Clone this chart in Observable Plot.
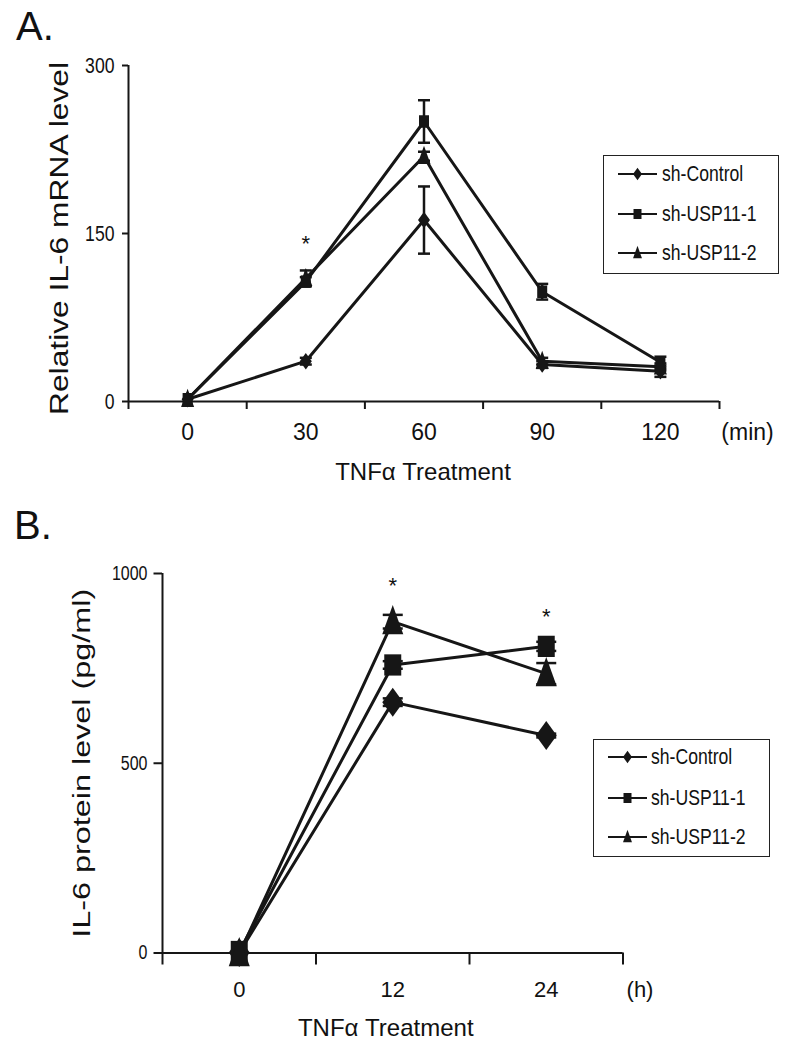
<!DOCTYPE html>
<html><head><meta charset="utf-8">
<script src="https://cdn.jsdelivr.net/npm/d3@7"></script>
<script src="https://cdn.jsdelivr.net/npm/@observablehq/plot@0.6"></script>
<style>
body{margin:0;background:#fff;}
#wrap{position:relative;width:789px;height:1050px;overflow:hidden;background:#fff;font-family:"Liberation Sans",Arial,sans-serif;color:#111;}
.panel{position:absolute;left:0;}
.letter{position:absolute;font-size:40px;line-height:40px;color:#111;}
.legend{position:absolute;border:1.6px solid #222;box-sizing:border-box;background:#fff;}
.lrow{position:absolute;left:0;height:24px;}
.lrow svg{position:absolute;left:12px;top:0;}
.lrow span{position:absolute;top:0;line-height:24px;font-size:22px;white-space:nowrap;display:inline-block;transform:scaleX(0.8);transform-origin:0 50%;}
</style>
</head><body>
<div id="wrap">
  <div id="pA" class="panel" style="top:0px"></div>
  <div id="pB" class="panel" style="top:500px"></div>
  <div class="letter" style="left:16px;top:6px">A.</div>
  <div class="letter" style="left:14px;top:505px">B.</div>
  <div id="legA" class="legend" style="left:603px;top:155px;width:176px;height:119px"></div>
  <div id="legB" class="legend" style="left:593px;top:739px;width:177px;height:118px"></div>
</div>
<script>
// ---------- data ----------
const seriesNames = ["sh-Control", "sh-USP11-1", "sh-USP11-2"];

// Panel A: relative IL-6 mRNA level vs TNFα time (min)
const timesA = [0, 30, 60, 90, 120];
const meanA_control = [2, 36, 162, 33, 27];
const errA_control  = [0, 3, 30, 3, 5];
const meanA_usp1    = [2, 107, 250, 98, 35];
const errA_usp1     = [0, 4, 19, 7, 5];
const meanA_usp2    = [2, 110, 219, 36, 31];
const errA_usp2     = [0, 7, 4, 3, 3];
const yTicksA = [0, 150, 300];
const starTimesA = [30];
const starLevelsA = [146];

// Panel B: IL-6 protein level (pg/ml) vs TNFα time (h)
const timesB = [0, 12, 24];
const meanB_control = [1, 661, 573];
const errB_control  = [0, 10, 5];
const meanB_usp1    = [4, 759, 808];
const errB_usp1     = [0, 10, 12];
const meanB_usp2    = [-2, 873, 736];
const errB_usp2     = [0, 18, 28];
const yTicksB = [0, 500, 1000];
const starTimesB = [12, 24];
const starLevelsB = [982, 900];

// ---------- helpers ----------
const INK = "#161616";
function shape(pts) {
  return {draw(ctx, size) {
    const s = Math.sqrt(size / Math.PI);
    pts.forEach(([x, y], i) => i ? ctx.lineTo(x * s, y * s) : ctx.moveTo(x * s, y * s));
    ctx.closePath();
  }};
}
const diamond = shape([[0, -1.38], [1, 0], [0, 1.38], [-1, 0]]);
const square = shape([[-1, -1.25], [1, -1.25], [1, 1.25], [-1, 1.25]]);
const triangle = shape([[0, -1.6], [1, 1.2], [-1, 1.2]]);
const symbols = [diamond, square, triangle];
const cap = {draw(ctx, size) { const r = Math.sqrt(size / Math.PI); ctx.moveTo(-r, 0); ctx.lineTo(r, 0); }};

function rows(times, means, errs) {
  return seriesNames.flatMap((s, i) => times.map((t, j) => ({series: s, si: i, t, m: means[i][j], e: errs[i][j]})));
}
function boundaries(times) {
  const step = times[1] - times[0];
  return [times[0] - step / 2, ...times.map(t => t + step / 2)];
}

function panel(cfg) {
  const data = rows(cfg.times, cfg.means, cfg.errs);
  const bnd = boundaries(cfg.times);
  const withErr = data.filter(d => d.e > 0);
  const caps = withErr.flatMap(d => [{t: d.t, v: d.m - d.e}, {t: d.t, v: d.m + d.e}]);
  const stars = cfg.starTimes.map((t, i) => ({t, v: cfg.starLevels[i]}));
  const svg = Plot.plot({
    width: 789, height: cfg.height,
    marginLeft: cfg.ml, marginRight: cfg.mr, marginTop: cfg.mt, marginBottom: cfg.mb,
    x: {domain: [bnd[0], bnd[bnd.length - 1]], axis: null},
    y: {domain: cfg.ydomain, axis: null},
    style: {fontFamily: "Liberation Sans, Arial, sans-serif", color: "#111", background: "transparent", overflow: "visible"},
    marks: [
      Plot.ruleX([bnd[0]], {stroke: INK, strokeWidth: 2}),
      Plot.ruleY([cfg.ydomain[0]], {stroke: INK, strokeWidth: 2}),
      Plot.axisY({ticks: cfg.yticks, tickFormat: d3.format("d"), tickSize: cfg.ytickSize, tickPadding: cfg.ytickPad, strokeWidth: 2, stroke: INK,
        fontSize: cfg.yFont, label: null, className: "ytk"}),
      Plot.axisX({ticks: bnd, tickSize: cfg.xtickSize, tickFormat: () => "", strokeWidth: 2, stroke: INK, label: null}),
      Plot.axisX({ticks: cfg.times, tickSize: 0, tickPadding: cfg.xtickPad, fontSize: cfg.xFont, label: null, lineAnchor: "top"}),
      Plot.text([cfg.unit], {frameAnchor: "bottom-right", textAnchor: "middle", dx: cfg.unitDx, dy: cfg.xtickPad, lineAnchor: "top", fontSize: cfg.xFont, fill: "#111"}),
      Plot.text(["TNFα Treatment"], {frameAnchor: "bottom", textAnchor: "middle", dx: cfg.titleDx, dy: cfg.titleDy, lineAnchor: "top", fontSize: 24, fill: "#111"}),
      Plot.text([cfg.ylabel], {frameAnchor: "left", textAnchor: "middle", lineAnchor: "middle", rotate: -90, dx: cfg.ylabDx, dy: cfg.ylabCy, fontSize: cfg.ylabFont, fill: "#111", className: "ylab"}),
      Plot.line(data, {x: "t", y: "m", z: "series", stroke: INK, strokeWidth: 3}),
      Plot.ruleX(withErr, {x: "t", y1: d => d.m - d.e, y2: d => d.m + d.e, stroke: INK, strokeWidth: 2.5}),
      Plot.dot(caps, {x: "t", y: "v", symbol: cap, r: cfg.capR, stroke: INK, strokeWidth: 2.5, fill: "none"}),
      ...symbols.map((sym, i) => Plot.dot(data.filter(d => d.si === i), {x: "t", y: "m", symbol: sym, r: cfg.markR[i], fill: INK, stroke: "none"})),
      Plot.text(stars, {x: "t", y: "v", text: () => "*", fontSize: 22, dy: 6, fill: "#111"})
    ]
  });
  document.getElementById(cfg.id).appendChild(svg);
  svg.querySelectorAll(".ylab text").forEach(t => {
    t.setAttribute("textLength", cfg.ylabLen);
    t.setAttribute("lengthAdjust", "spacingAndGlyphs");
  });
  // condensed tick labels, as in the reference
  svg.querySelectorAll(".ytk text").forEach(t => {
    const w = t.getComputedTextLength();
    if (w > 0) {
      t.setAttribute("textLength", (w * 0.8).toFixed(1));
      t.setAttribute("lengthAdjust", "spacingAndGlyphs");
    }
  });
}

panel({
  id: "pA", height: 500, ml: 128, mr: 70, mt: 65, mb: 99,
  times: timesA, means: [meanA_control, meanA_usp1, meanA_usp2], errs: [errA_control, errA_usp1, errA_usp2],
  ydomain: [0, 300], yticks: yTicksA, ytickSize: 6, ytickPad: 8, yFont: 22,
  xtickSize: 8, xtickPad: 22, xFont: 23, unit: "(min)", unitDx: 28,
  titleDx: -1, titleDy: 61, ylabel: "Relative IL-6 mRNA level", ylabDx: -69, ylabCy: 5, ylabFont: 26, ylabLen: 353,
  capR: 6, markR: [6, 5, 6.5], starTimes: starTimesA, starLevels: starLevelsA
});
panel({
  id: "pB", height: 550, ml: 162, mr: 166.5, mt: 73, mb: 97.5,
  times: timesB, means: [meanB_control, meanB_usp1, meanB_usp2], errs: [errB_control, errB_usp1, errB_usp2],
  ydomain: [0, 1000], yticks: yTicksB, ytickSize: 8.5, ytickPad: 6.5, yFont: 20,
  xtickSize: 12, xtickPad: 28.5, xFont: 22, unit: "(h)", unitDx: 17,
  titleDx: -7, titleDy: 65.5, ylabel: "IL-6 protein level (pg/ml)", ylabDx: -80, ylabCy: 0, ylabFont: 23.5, ylabLen: 349,
  capR: 10, markR: [10.5, 8.5, 10.5], starTimes: starTimesB, starLevels: starLevelsB
});

// ---------- legends ----------
function legend(id, rowsY, textLeft) {
  const box = document.getElementById(id);
  seriesNames.forEach((name, i) => {
    const row = document.createElement("div");
    row.className = "lrow";
    row.style.top = (rowsY[i] - 12) + "px";
    row.style.width = "100%";
    const svg = d3.create("svg").attr("width", 46).attr("height", 24);
    svg.append("line").attr("x1", 2).attr("x2", 41).attr("y1", 12).attr("y2", 12).attr("stroke", INK).attr("stroke-width", 1.8);
    svg.append("path").attr("transform", "translate(21.5,12)")
      .attr("d", d3.symbol().type(symbols[i]).size(Math.PI * (i === 1 ? 16 : 20)))
      .attr("fill", INK);
    row.appendChild(svg.node());
    const sp = document.createElement("span");
    sp.style.left = textLeft + "px";
    sp.textContent = name;
    row.appendChild(sp);
    box.appendChild(row);
  });
}
legend("legA", [18, 58, 97], 58);
legend("legB", [17, 58, 97], 57);
</script>
</body></html>
